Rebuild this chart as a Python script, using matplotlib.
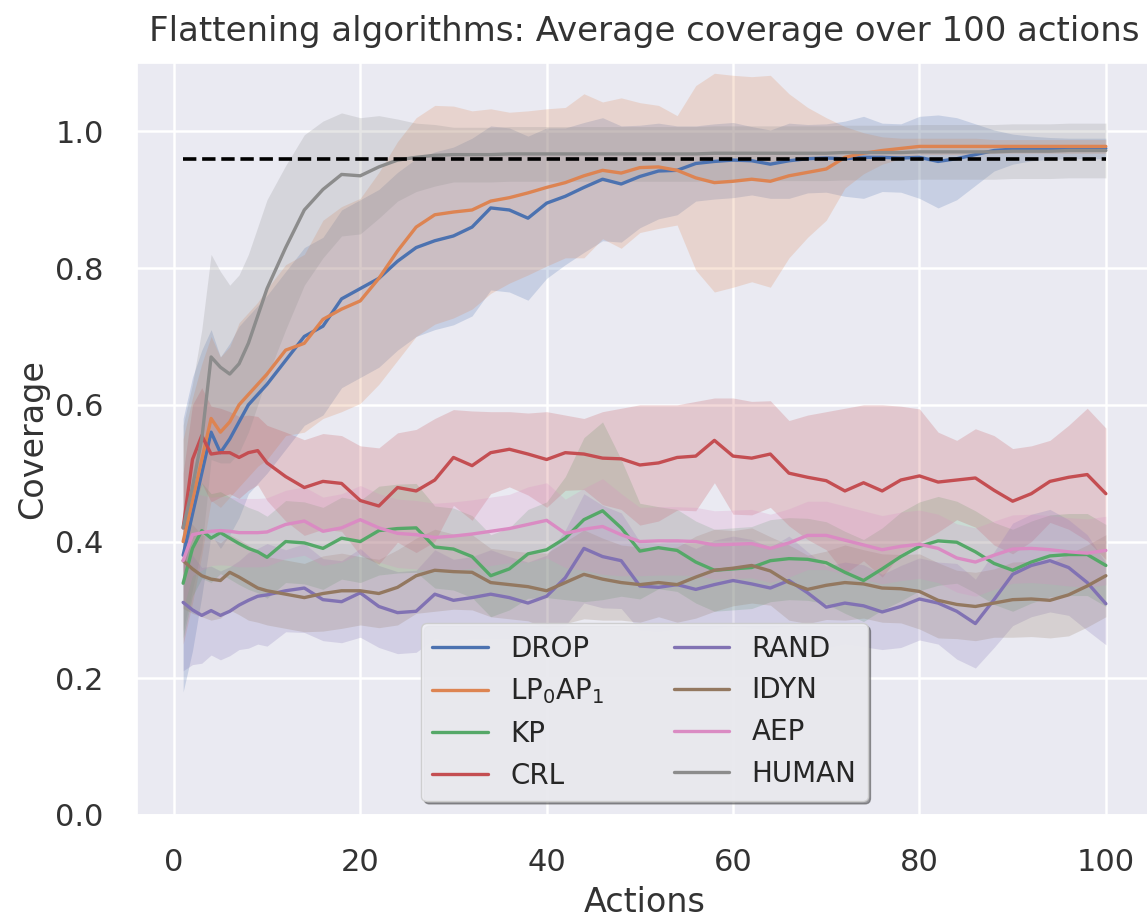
import numpy as np
import matplotlib
matplotlib.use("Agg")
from matplotlib import pyplot as plt
import seaborn as sns

actions = [1, 2, 3, 4, 5, 6, 7, 8, 9, 10,
           12, 14, 16, 18, 20, 22, 24, 26, 28, 30,
           32, 34, 36, 38, 40, 42, 44, 46, 48, 50,
           52, 54, 56, 58, 60, 62, 64, 66, 68, 70,
           72, 74, 76, 78, 80, 82, 84, 86, 88, 90,
           92, 94, 96, 98, 100]

drop_mean = [0.38, 0.44, 0.50, 0.56, 0.53, 0.55, 0.575, 0.60, 0.615, 0.63,
             0.665, 0.70, 0.715, 0.755, 0.77, 0.785, 0.81, 0.83, 0.84, 0.847,
             0.86, 0.888, 0.885, 0.873, 0.895, 0.905, 0.918, 0.93, 0.923, 0.934,
             0.942, 0.943, 0.953, 0.956, 0.958, 0.957, 0.952, 0.957, 0.96, 0.961,
             0.96, 0.962, 0.962, 0.961, 0.962, 0.956, 0.96, 0.966, 0.972, 0.974,
             0.975, 0.975, 0.975, 0.975, 0.975]
drop_sd = [0.20, 0.20, 0.18, 0.15, 0.14, 0.14, 0.14, 0.13, 0.13, 0.13,
           0.13, 0.13, 0.13, 0.13, 0.13, 0.13, 0.13, 0.13, 0.13, 0.13,
           0.13, 0.12, 0.12, 0.12, 0.11, 0.10, 0.095, 0.09, 0.085, 0.075,
           0.07, 0.065, 0.055, 0.055, 0.055, 0.05, 0.05, 0.055, 0.05, 0.05,
           0.055, 0.06, 0.05, 0.05, 0.06, 0.068, 0.06, 0.045, 0.03, 0.022,
           0.018, 0.016, 0.015, 0.015, 0.015]

lp_mean = [0.40, 0.46, 0.52, 0.58, 0.56, 0.575, 0.60, 0.615, 0.63, 0.645,
           0.68, 0.69, 0.725, 0.74, 0.752, 0.785, 0.825, 0.86, 0.878, 0.882,
           0.885, 0.898, 0.903, 0.91, 0.918, 0.925, 0.935, 0.943, 0.939, 0.947,
           0.948, 0.943, 0.932, 0.925, 0.927, 0.93, 0.927, 0.935, 0.94, 0.945,
           0.962, 0.968, 0.972, 0.975, 0.978, 0.978, 0.978, 0.978, 0.978, 0.978,
           0.978, 0.978, 0.978, 0.978, 0.978]
lp_sd = [0.15, 0.15, 0.14, 0.12, 0.11, 0.11, 0.12, 0.12, 0.12, 0.125,
         0.125, 0.13, 0.145, 0.15, 0.15, 0.155, 0.16, 0.16, 0.16, 0.155,
         0.145, 0.135, 0.125, 0.12, 0.115, 0.11, 0.12, 0.10, 0.11, 0.095,
         0.09, 0.08, 0.135, 0.16, 0.155, 0.15, 0.155, 0.12, 0.095, 0.075,
         0.045, 0.03, 0.02, 0.015, 0.012, 0.012, 0.012, 0.012, 0.01, 0.01,
         0.01, 0.01, 0.01, 0.01, 0.01]

kp_mean = [0.339, 0.39, 0.416, 0.405, 0.413, 0.405, 0.397, 0.39, 0.385, 0.377,
           0.40, 0.398, 0.39, 0.405, 0.40, 0.416, 0.419, 0.42, 0.392, 0.389,
           0.378, 0.35, 0.36, 0.382, 0.388, 0.405, 0.432, 0.445, 0.42, 0.386,
           0.391, 0.387, 0.37, 0.358, 0.36, 0.362, 0.372, 0.375, 0.374, 0.369,
           0.355, 0.343, 0.36, 0.378, 0.393, 0.401, 0.399, 0.385, 0.368, 0.358,
           0.37, 0.379, 0.381, 0.381, 0.365]
kp_sd = [0.08, 0.07, 0.07, 0.065, 0.06, 0.06, 0.06, 0.06, 0.06, 0.06,
         0.06, 0.06, 0.06, 0.06, 0.06, 0.065, 0.065, 0.065, 0.06, 0.06,
         0.06, 0.06, 0.06, 0.065, 0.07, 0.09, 0.12, 0.13, 0.10, 0.07,
         0.06, 0.06, 0.06, 0.06, 0.06, 0.06, 0.06, 0.06, 0.06, 0.06,
         0.06, 0.06, 0.06, 0.065, 0.065, 0.065, 0.06, 0.06, 0.06, 0.06,
         0.06, 0.06, 0.06, 0.06, 0.06]

crl_mean = [0.42, 0.52, 0.555, 0.528, 0.53, 0.53, 0.523, 0.53, 0.533, 0.515,
            0.495, 0.479, 0.488, 0.485, 0.46, 0.452, 0.479, 0.474, 0.49, 0.523,
            0.511, 0.53, 0.535, 0.528, 0.52, 0.53, 0.528, 0.522, 0.521, 0.512,
            0.515, 0.523, 0.525, 0.548, 0.525, 0.522, 0.528, 0.50, 0.494, 0.489,
            0.474, 0.486, 0.474, 0.49, 0.496, 0.487, 0.49, 0.493, 0.475, 0.459,
            0.47, 0.488, 0.494, 0.498, 0.47]
crl_sd = [0.08, 0.08, 0.07, 0.07, 0.065, 0.06, 0.06, 0.055, 0.05, 0.055,
          0.065, 0.07, 0.07, 0.07, 0.08, 0.085, 0.08, 0.09, 0.09, 0.07,
          0.08, 0.06, 0.055, 0.06, 0.07, 0.055, 0.052, 0.068, 0.074, 0.088,
          0.085, 0.077, 0.08, 0.062, 0.085, 0.083, 0.078, 0.077, 0.091, 0.101,
          0.121, 0.114, 0.126, 0.108, 0.098, 0.073, 0.058, 0.072, 0.08, 0.077,
          0.07, 0.06, 0.076, 0.097, 0.096]

rand_mean = [0.311, 0.30, 0.292, 0.299, 0.292, 0.298, 0.307, 0.314, 0.32, 0.322,
             0.328, 0.332, 0.315, 0.312, 0.325, 0.305, 0.296, 0.298, 0.323, 0.314,
             0.318, 0.323, 0.318, 0.31, 0.32, 0.347, 0.39, 0.378, 0.372, 0.335,
             0.333, 0.337, 0.33, 0.337, 0.343, 0.338, 0.332, 0.343, 0.325, 0.304,
             0.31, 0.306, 0.297, 0.305, 0.316, 0.31, 0.298, 0.28, 0.315, 0.352,
             0.365, 0.372, 0.362, 0.34, 0.309]
rand_sd = [0.10, 0.08, 0.07, 0.065, 0.065, 0.065, 0.065, 0.07, 0.07, 0.075,
           0.06, 0.065, 0.06, 0.06, 0.065, 0.06, 0.06, 0.06, 0.065, 0.06,
           0.06, 0.065, 0.06, 0.06, 0.06, 0.07, 0.08, 0.075, 0.07, 0.065,
           0.065, 0.065, 0.06, 0.065, 0.065, 0.065, 0.06, 0.065, 0.06, 0.06,
           0.06, 0.06, 0.055, 0.06, 0.06, 0.06, 0.07, 0.065, 0.07, 0.075,
           0.075, 0.075, 0.07, 0.07, 0.06]

idyn_mean = [0.372, 0.36, 0.35, 0.345, 0.343, 0.355, 0.348, 0.34, 0.332, 0.328,
             0.323, 0.318, 0.324, 0.328, 0.328, 0.324, 0.333, 0.35, 0.358, 0.356,
             0.355, 0.34, 0.337, 0.334, 0.328, 0.34, 0.352, 0.345, 0.34, 0.337,
             0.34, 0.337, 0.348, 0.358, 0.361, 0.365, 0.357, 0.34, 0.33, 0.336,
             0.34, 0.338, 0.332, 0.331, 0.327, 0.314, 0.308, 0.305, 0.31, 0.315,
             0.316, 0.314, 0.322, 0.335, 0.35]
idyn_sd = [0.07, 0.065, 0.06, 0.06, 0.055, 0.055, 0.055, 0.055, 0.05, 0.05,
           0.05, 0.05, 0.055, 0.055, 0.05, 0.05, 0.055, 0.055, 0.06, 0.055,
           0.055, 0.05, 0.05, 0.05, 0.055, 0.06, 0.065, 0.06, 0.055, 0.055,
           0.05, 0.055, 0.06, 0.06, 0.055, 0.055, 0.05, 0.055, 0.05, 0.05,
           0.055, 0.05, 0.05, 0.05, 0.055, 0.055, 0.05, 0.05, 0.05, 0.055,
           0.055, 0.055, 0.06, 0.06, 0.06]

aep_mean = [0.372, 0.41, 0.413, 0.415, 0.416, 0.415, 0.413, 0.413, 0.413, 0.414,
            0.425, 0.43, 0.415, 0.42, 0.432, 0.42, 0.412, 0.41, 0.406, 0.408,
            0.411, 0.415, 0.419, 0.425, 0.431, 0.412, 0.418, 0.422, 0.41, 0.40,
            0.401, 0.401, 0.40, 0.395, 0.396, 0.397, 0.39, 0.398, 0.409, 0.409,
            0.402, 0.395, 0.388, 0.393, 0.396, 0.39, 0.376, 0.37, 0.38, 0.389,
            0.39, 0.388, 0.385, 0.383, 0.387]
aep_sd = [0.07, 0.06, 0.055, 0.05, 0.05, 0.05, 0.05, 0.05, 0.05, 0.05,
          0.05, 0.05, 0.05, 0.05, 0.05, 0.05, 0.05, 0.05, 0.05, 0.05,
          0.05, 0.05, 0.05, 0.055, 0.055, 0.05, 0.06, 0.07, 0.06, 0.05,
          0.05, 0.05, 0.05, 0.05, 0.05, 0.05, 0.05, 0.05, 0.05, 0.05,
          0.05, 0.05, 0.05, 0.05, 0.05, 0.05, 0.05, 0.05, 0.05, 0.05,
          0.05, 0.05, 0.05, 0.05, 0.05]

human_mean = [0.42, 0.48, 0.55, 0.67, 0.655, 0.645, 0.66, 0.69, 0.73, 0.77,
              0.83, 0.885, 0.915, 0.937, 0.935, 0.948, 0.958, 0.962, 0.965, 0.966,
              0.966, 0.966, 0.967, 0.967, 0.967, 0.967, 0.967, 0.967, 0.967, 0.967,
              0.967, 0.967, 0.967, 0.968, 0.968, 0.968, 0.968, 0.968, 0.968, 0.968,
              0.969, 0.969, 0.969, 0.969, 0.97, 0.97, 0.97, 0.97, 0.97, 0.971,
              0.971, 0.971, 0.972, 0.972, 0.972]
human_sd = [0.15, 0.15, 0.16, 0.15, 0.14, 0.13, 0.13, 0.13, 0.13, 0.13,
            0.12, 0.11, 0.10, 0.09, 0.085, 0.075, 0.06, 0.05, 0.045, 0.04,
            0.04, 0.04, 0.04, 0.04, 0.04, 0.04, 0.04, 0.04, 0.04, 0.04,
            0.04, 0.04, 0.04, 0.04, 0.04, 0.04, 0.04, 0.04, 0.04, 0.04,
            0.04, 0.04, 0.04, 0.04, 0.04, 0.04, 0.04, 0.04, 0.04, 0.04,
            0.04, 0.04, 0.04, 0.04, 0.04]

labels = ["DROP", r"LP$_0$AP$_1$", "KP", "CRL", "RAND", "IDYN", "AEP", "HUMAN"]
means = [drop_mean, lp_mean, kp_mean, crl_mean, rand_mean, idyn_mean, aep_mean, human_mean]
sds = [drop_sd, lp_sd, kp_sd, crl_sd, rand_sd, idyn_sd, aep_sd, human_sd]

human_level = 0.96

sns.set_theme(style="darkgrid")
plt.rcParams["font.family"] = ["DejaVu Sans"]
colors = sns.color_palette("deep")

fig = plt.figure(figsize=(11.47, 9.18), dpi=100)
ax = fig.add_axes([137 / 1147, 103 / 918, 1015 / 1147, 752 / 918])

x = np.array(actions)
for lab, m, s, c in zip(labels, means, sds, colors):
    m = np.array(m)
    s = np.array(s)
    ax.plot(x, m, color=c, lw=2.4, label=lab)
    ax.fill_between(x, m - s, m + s, color=c, alpha=0.22, lw=0)

ax.plot([actions[0], actions[-1]], [human_level, human_level], color="black", ls="--", lw=2.6)

ax.set_ylim(0, 1.1)
ax.set_xlim(-3.95, 104.95)
ax.set_xticks([0, 20, 40, 60, 80, 100])
ax.set_yticks([0.0, 0.2, 0.4, 0.6, 0.8, 1.0])
ax.tick_params(labelsize=22, pad=18, colors="#333333")
ax.grid(color="white", lw=1.8)
ax.set_xlabel("Actions", fontsize=24, color="#333333", labelpad=6)
ax.set_ylabel("Coverage", fontsize=24, color="#333333", labelpad=4)
ax.set_title("Flattening algorithms: Average coverage over 100 actions", fontsize=24.5,
             color="#333333", pad=16)

leg = ax.legend(ncol=2, loc="lower center", fontsize=20, shadow=True, frameon=True,
                facecolor="#F0F0F5", framealpha=0.92, edgecolor="#CCCCCC",
                columnspacing=2.5)

fig.savefig("out.png", dpi=100)
